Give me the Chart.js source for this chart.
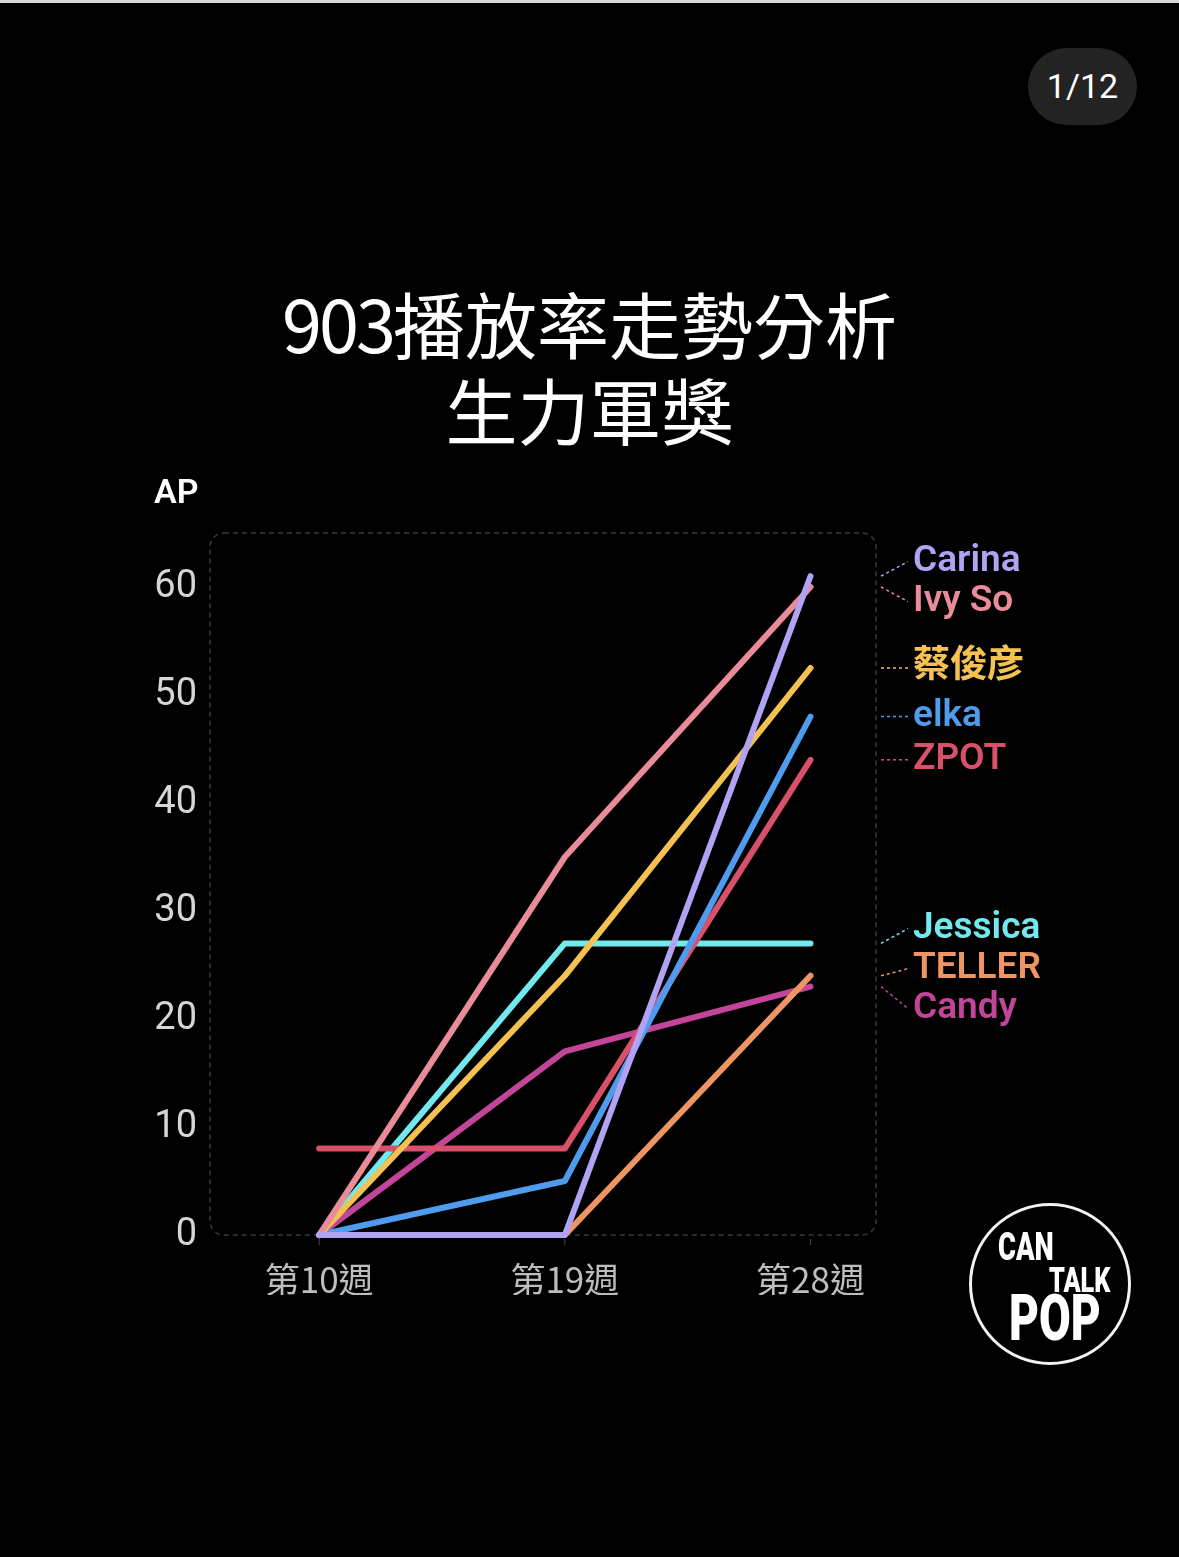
<!DOCTYPE html>
<html>
<head>
<meta charset="utf-8">
<script src="https://cdn.jsdelivr.net/npm/chart.js@4.4.1/dist/chart.umd.min.js"></script>
<style>
  html, body { margin: 0; padding: 0; background: #000; }
  body { width: 1179px; height: 1557px; position: relative; overflow: hidden; border-top: 3px solid #d6d6d6; box-sizing: border-box; }
  #wrap { position: absolute; left: 0; top: 0; width: 1179px; height: 1557px; }
  .title { position: absolute; left: 0; width: 1179px; text-align: center; color: #fff;
    font-family: "Noto Sans CJK TC", "Noto Sans CJK SC", sans-serif; font-weight: 400; font-size: 72px; line-height: 86px; }
  .title .num { letter-spacing: -3px; }
  .badge { position: absolute; left: 1028px; top: 45px; width: 109px; height: 77px; border-radius: 39px;
    background: #232323; color: #fff; font: 34px Roboto, sans-serif; text-align: center; line-height: 77px; }
  .ap { position: absolute; left: 154px; top: 468px; color: #fff; font: 600 34px Roboto, sans-serif; }
  .logo { position: absolute; left: 969px; top: 1200px; width: 162px; height: 162px; border-radius: 50%;
    border: 3px solid #f2f2f2; box-sizing: border-box; color: #fff;
    font-family: Roboto, sans-serif; font-weight: 900; }
  .logo span { position: absolute; line-height: 1; transform: scaleX(0.72); transform-origin: 0 0; white-space: nowrap; }
</style>
</head>
<body>
<div id="wrap"><canvas id="chart" width="1179" height="1557"></canvas></div>
<div class="title" style="top:276px;"><span class="num">903</span>播放率走勢分析</div>
<div class="title" style="top:362px;">生力軍獎</div>
<div class="badge">1/12</div>
<div class="ap">AP</div>
<div class="logo">
  <span style="left:26px;top:22px;font-size:38px;">CAN</span>
  <span style="left:77px;top:57px;font-size:35px;">TALK</span>
  <span style="left:37px;top:81px;font-size:64px;">POP</span>
</div>
<script>
// weeks on the x axis
const weeks = [10, 19, 28];
const weekLabels = ["第10週", "第19週", "第28週"];
const yTicks = [0, 10, 20, 30, 40, 50, 60];

// series (AP values per week)
const names = ["Carina", "Ivy So", "蔡俊彦", "elka", "ZPOT", "Jessica", "TELLER", "Candy"];
const carina = [0, 0, 61];
const ivySo = [0, 35, 60];
const choi = [0, 24, 52.5];
const elka = [0, 5, 48];
const zpot = [8, 8, 44];
const jessica = [0, 27, 27];
const teller = [0, 0, 24];
const candy = [0, 17, 23];
const colors = ["#b2a2f4", "#e98b98", "#f5c150", "#4f9bee", "#d9506b", "#72e9ee", "#ee9562", "#c3459a"];

const allSeries = [carina, ivySo, choi, elka, zpot, jessica, teller, candy];

const datasets = allSeries.map((vals, i) => ({
  label: names[i],
  data: vals.map((v, j) => ({ x: weeks[j], y: v })),
  borderColor: colors[i],
  borderWidth: 6,
  borderCapStyle: "round",
  borderJoinStyle: "round",
  pointRadius: 0,
  fill: false,
  tension: 0,
  clip: false,
}));

// dashed rounded frame around the plot area
const framePlugin = {
  id: "frame",
  beforeDatasetsDraw(chart) {
    const { ctx, chartArea: a } = chart;
    ctx.save();
    ctx.strokeStyle = "#3a3a3a";
    ctx.lineWidth = 1.5;
    ctx.setLineDash([5, 4]);
    ctx.beginPath();
    ctx.roundRect(a.left, a.top, a.right - a.left, a.bottom - a.top, 14);
    ctx.stroke();
    // small tick marks under x labels
    ctx.setLineDash([]);
    ctx.strokeStyle = "#444";
    ctx.lineWidth = 1;
    weeks.forEach(w => {
      const x = chart.scales.x.getPixelForValue(w);
      ctx.beginPath();
      ctx.moveTo(x, a.bottom + 4);
      ctx.lineTo(x, a.bottom + 10);
      ctx.stroke();
    });
    ctx.restore();
  }
};

// spread labels so they don't overlap, keep groups centred on their targets
function spread(items, gap) {
  items.sort((a, b) => a.target - b.target);
  let groups = items.map(it => ({ items: [it], top: it.target }));
  let merged = true;
  while (merged) {
    merged = false;
    for (let i = 0; i < groups.length - 1; i++) {
      const g = groups[i], h = groups[i + 1];
      if (g.top + g.items.length * gap > h.top) {
        const all = g.items.concat(h.items);
        const mean = all.reduce((s, it) => s + it.target, 0) / all.length;
        groups.splice(i, 2, { items: all, top: mean - (all.length - 1) * gap / 2 });
        merged = true;
        break;
      }
    }
  }
  groups.forEach(g => g.items.forEach((it, k) => { it.y = g.top + k * gap; }));
}

// end labels with dotted connectors
const endLabels = {
  id: "endLabels",
  afterDatasetsDraw(chart) {
    const { ctx, chartArea: a } = chart;
    const ys = chart.scales.y;
    const items = allSeries.map((vals, i) => ({
      i, target: ys.getPixelForValue(vals[vals.length - 1])
    }));
    spread(items, 40);
    ctx.save();
    ctx.font = "600 37px Roboto, 'Noto Sans CJK TC', sans-serif";
    ctx.textBaseline = "middle";
    items.forEach(it => {
      const x0 = a.right + 5, x1 = a.right + 32;
      ctx.strokeStyle = colors[it.i];
      ctx.lineWidth = 1.5;
      ctx.setLineDash([3, 3]);
      ctx.beginPath();
      ctx.moveTo(x0, it.target);
      ctx.lineTo(x1, it.y);
      ctx.stroke();
      ctx.fillStyle = colors[it.i];
      ctx.fillText(names[it.i], a.right + 37, it.y);
    });
    ctx.restore();
  }
};

new Chart(document.getElementById("chart"), {
  type: "line",
  data: { datasets },
  options: {
    responsive: false,
    animation: false,
    layout: { padding: { left: 150, top: 530, right: 303, bottom: 265 } },
    plugins: { legend: { display: false }, tooltip: { enabled: false }, title: { display: false } },
    scales: {
      x: {
        type: "linear",
        min: 6,
        max: 30.4,
        grid: { display: false },
        border: { display: false },
        afterBuildTicks: s => { s.ticks = weeks.map(v => ({ value: v })); },
        afterFit: s => { s.height = 60; },
        ticks: {
          padding: 16,
          color: "#bdbdbd",
          font: { size: 35, family: "'Noto Sans CJK TC', sans-serif" },
          maxRotation: 0,
          callback: v => weekLabels[weeks.indexOf(v)]
        }
      },
      y: {
        min: 0,
        max: 65,
        grid: { display: false },
        border: { display: false },
        afterBuildTicks: s => { s.ticks = yTicks.map(v => ({ value: v })); },
        afterFit: s => { s.width = 60; },
        ticks: {
          padding: 5,
          color: "#d6d6d6",
          font: { size: 38, family: "Roboto, sans-serif" }
        }
      }
    }
  },
  plugins: [framePlugin, endLabels]
});
</script>
</body>
</html>
